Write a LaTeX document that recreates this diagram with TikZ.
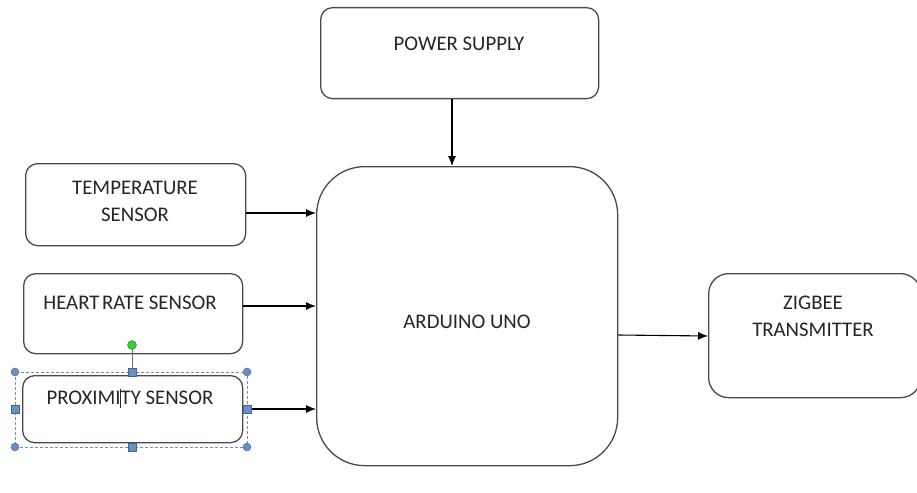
\documentclass[tikz,border=0pt]{standalone}
\usepackage{fontspec}
\setmainfont{Carlito}
\usetikzlibrary{arrows.meta}
\definecolor{boxline}{HTML}{4A4A4A}
\definecolor{txt}{HTML}{262626}
\definecolor{sel}{HTML}{6A8FC4}
\definecolor{rot}{HTML}{3CC83C}
\begin{document}
\begin{tikzpicture}[x=1pt,y=-1pt,
  blk/.style={draw=boxline,line width=1.3pt,rounded corners=12pt,inner sep=0pt,anchor=north west},
  lbl/.style={text=txt,font=\fontsize{20.8}{27}\selectfont,align=center,inner sep=0pt},
  arr/.style={draw=black,line width=1.1pt,-{Latex[length=10pt,width=8pt]}},
  hcirc/.style={circle,fill=sel,draw=sel!70!black,line width=0.4pt,minimum size=8pt,inner sep=0pt},
  hsq/.style={rectangle,fill=sel,draw=sel!70!black,line width=0.4pt,minimum size=8pt,inner sep=0pt}]
\useasboundingbox (0,0) rectangle (917,492);
\fill[white] (0,0) rectangle (917,492);
% boxes
\node[blk,minimum width=278pt,minimum height=91pt] (ps) at (320,7) {};
\node[blk,minimum width=301pt,minimum height=299pt,rounded corners=48pt] (ard) at (316,166) {};
\node[blk,minimum width=220pt,minimum height=82pt] (temp) at (25,163) {};
\node[blk,minimum width=219pt,minimum height=80pt] (heart) at (23,273) {};
\node[blk,minimum width=220pt,minimum height=67pt] (prox) at (22,375) {};
\node[blk,minimum width=212pt,minimum height=124pt,rounded corners=20pt] (zig) at (708,273) {};
% labels
\node[lbl] (pst) at (459,44) {POWER SUPPLY};
\node[lbl] (ardt) at (467,322) {ARDUINO UNO};
\node[lbl] (tempt) at (135,201) {TEMPERATURE\\SENSOR};
\node[lbl] (heartt) at (130,303) {HEART\hspace{-2pt} RATE SENSOR};
\node[lbl] (proxt) at (130,398) {PROXIMI\makebox[0pt]{\rule[-3pt]{1.6pt}{19pt}}TY SENSOR};
\node[lbl] (zigt) at (813,316) {ZIGBEE\\TRANSMITTER};
% connectors
\draw[arr] (ps.south -| 452,0) -- (ard.north -| 452,0);
\draw[arr] (temp.east |- 0,213) -- (ard.west |- 0,213);
\draw[arr] (heart.east |- 0,306) -- (ard.west |- 0,306);
\draw[arr] (prox.east |- 0,409) -- (ard.west |- 0,409);
\draw[arr] (ard.east |- 0,335) -- (zig.west |- 0,336);
% selection frame around proximity sensor
\draw[sel,dashed,line width=0.8pt,dash pattern=on 3pt off 2pt] (15,372) rectangle (247,447);
\coordinate (rotc) at (132,345);
\node[hsq] (hT) at (132,372) {};
\draw[sel!80!black,line width=1pt] (rotc) -- (hT);
\node[circle,fill=rot,draw=rot!70!black,line width=0.4pt,minimum size=9pt,inner sep=0pt] (hR) at (rotc) {};
\node[hcirc] (hTL) at (15,372) {};
\node[hcirc] (hTR) at (247,372) {};
\node[hcirc] (hBL) at (15,447) {};
\node[hcirc] (hBR) at (247,447) {};
\node[hsq] (hB) at (132,447) {};
\node[hsq] (hL) at (15,409) {};
\node[hsq] (hRt) at (247,409) {};
\end{tikzpicture}
\end{document}
